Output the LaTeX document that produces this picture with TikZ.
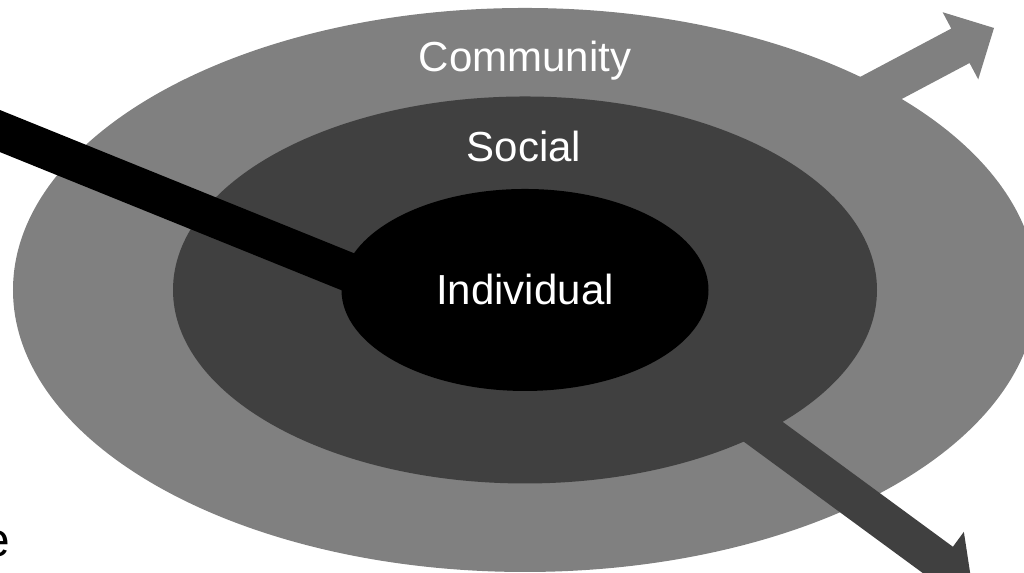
\documentclass[tikz,border=0pt]{standalone}
\usepackage{fontspec}
\setmainfont{Liberation Sans}
\usetikzlibrary{calc,shapes.geometric}
\def\blockarrow[#1](#2)(#3){\coordinate (#3-base) at ($(#3)!0.38cm!(#2)$); \fill[#1] ($(#2)!0.195cm!90:(#3)$) -- ($(#3-base)!0.195cm!90:(#3)$) -- ($(#3-base)!0.38cm!90:(#3)$) -- (#3) -- ($(#3-base)!0.38cm!-90:(#3)$) -- ($(#3-base)!0.195cm!-90:(#3)$) -- ($(#2)!0.195cm!-90:(#3)$) -- cycle;}

\begin{document}
\begin{tikzpicture}[
		ring/.style={ellipse, inner sep=0pt},
		ringlabel/.style={text=white, font=\fontsize{11.95}{14}\selectfont}]
			%%%%% START %%%%%
			
			\useasboundingbox (0, 0) rectangle (10.24, 5.73);
			\clip (0, 0) rectangle (10.24, 5.73);
			
			\node[ring, fill=black!50, minimum width=10.24cm, minimum height=5.64cm] (community) at (5.25, 2.83) {};
			
			\coordinate (communitystart) at (7.00, 3.89);
			\coordinate (communitytip) at (9.94, 5.45);
			\blockarrow[black!50](communitystart)(communitytip);
			
			\node[ring, fill=black!75, minimum width=7.04cm, minimum height=3.87cm] (social) at (5.25, 2.83) {};
			
			\coordinate (socialstart) at (6.00, 2.61);
			\coordinate (socialtip) at (9.72, -0.12);
			\blockarrow[black!75](socialstart)(socialtip);
			
			\coordinate (barstart) at (-0.20, 4.50);
			\coordinate (barend) at (4.20, 2.72);
			\draw[line width=0.39cm] (barstart) -- (barend);
			
			\node[ring, ringlabel, fill=black, minimum width=3.67cm, minimum height=2.02cm] (individual) at (5.25, 2.83) {Individual};
			
			\node[ringlabel, anchor=base] (communitylabel) at (5.25, 5.01) {Community};
			\node[ringlabel, anchor=base] (sociallabel) at (5.24, 4.11) {Social};
			
			\node[anchor=base east, inner sep=0pt, font=\fontsize{13.6}{16}\selectfont] (cutlabel) at (0.11, 0.16) {e};
			
			%%%%% END %%%%%
\end{tikzpicture}
\end{document}
